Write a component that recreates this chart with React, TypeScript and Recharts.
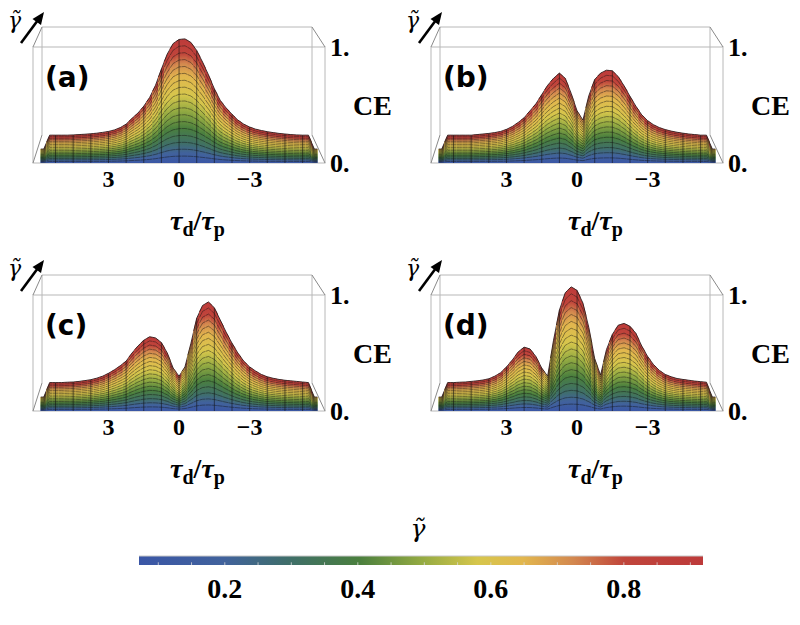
import React from 'react'
import { BarChart, Bar, XAxis, YAxis, ComposedChart, Area, ReferenceLine } from 'recharts'

// delay axis, tau_d / tau_p (left to right, axis runs from + to -)
const TAU = [
  6.25, 6, 5.75, 5.5, 5.25, 5, 4.75, 4.5, 4.25, 4, 3.75, 3.5, 3.25, 3, 2.75, 2.5, 2.25,
  2, 1.75, 1.5, 1.25, 1, 0.75, 0.5, 0.25, 0, -0.25, -0.5, -0.75, -1, -1.25, -1.5, -1.75,
  -2, -2.25, -2.5, -2.75, -3, -3.25, -3.5, -3.75, -4, -4.25, -4.5, -4.75, -5, -5.25, -5.5,
  -5.75, -6, -6.25,
]

// outline of each CE surface, as read on the front CE scale
const CE_A = [
  null, null, 0.12, 0.24, 0.24, 0.24, 0.24, 0.242, 0.245, 0.248, 0.252, 0.257, 0.264, 0.272,
  0.285, 0.305, 0.335, 0.385, 0.43, 0.49, 0.565, 0.67, 0.81, 0.94, 1.03, 1.065, 1.07, 1.04,
  0.97, 0.87, 0.76, 0.64, 0.54, 0.475, 0.42, 0.37, 0.335, 0.31, 0.292, 0.28, 0.27, 0.262,
  0.255, 0.25, 0.245, 0.242, 0.24, 0.24, 0.12, null, null,
]
const CE_B = [
  null, null, 0.12, 0.24, 0.24, 0.24, 0.24, 0.24, 0.245, 0.25, 0.255, 0.262, 0.272, 0.29,
  0.315, 0.35, 0.39, 0.45, 0.51, 0.59, 0.67, 0.73, 0.775, 0.73, 0.6, 0.45, 0.37, 0.58,
  0.72, 0.775, 0.8, 0.795, 0.745, 0.665, 0.575, 0.49, 0.415, 0.365, 0.33, 0.305, 0.288,
  0.275, 0.265, 0.257, 0.25, 0.245, 0.24, 0.24, 0.12, null, null,
]
const CE_C = [
  null, null, 0.12, 0.245, 0.245, 0.245, 0.248, 0.25, 0.255, 0.262, 0.27, 0.283, 0.3, 0.325,
  0.355, 0.39, 0.43, 0.5, 0.56, 0.61, 0.64, 0.63, 0.59, 0.5, 0.37, 0.3, 0.38, 0.58, 0.8,
  0.91, 0.94, 0.89, 0.785, 0.68, 0.585, 0.5, 0.43, 0.38, 0.345, 0.315, 0.295, 0.282, 0.272,
  0.265, 0.26, 0.255, 0.25, 0.245, 0.12, null, null,
]
const CE_D = [
  null, null, 0.12, 0.245, 0.245, 0.248, 0.25, 0.255, 0.26, 0.267, 0.278, 0.3, 0.33, 0.38,
  0.44, 0.51, 0.55, 0.535, 0.47, 0.37, 0.3, 0.61, 0.87, 1.02, 1.07, 1.04, 0.93, 0.72, 0.45,
  0.31, 0.53, 0.66, 0.74, 0.755, 0.73, 0.67, 0.56, 0.47, 0.4, 0.35, 0.315, 0.295, 0.28,
  0.272, 0.265, 0.258, 0.253, 0.248, 0.12, null, null,
]

const CE_TICKS = [0, 1]

const GAMMA_RANGE = [0.071, 0.919]
const GAMMA_TICKS = [0.2, 0.4, 0.6, 0.8]
const GAMMA_MINOR = [
  0.1, 0.15, 0.2, 0.25, 0.3, 0.35, 0.4, 0.45, 0.5, 0.55, 0.6, 0.65, 0.7, 0.75, 0.8, 0.85, 0.9,
]

// colour bar, left to right
const COLORMAP: [number, string][] = [
  [0, '#3a56a6'], [0.15, '#41629c'], [0.27, '#3f6f68'], [0.39, '#4a7f3e'], [0.5, '#93aa42'],
  [0.6, '#d6c64c'], [0.68, '#e2b74e'], [0.77, '#d3884f'], [0.86, '#c0453b'], [1, '#bd3a3a'],
]
// same colours as they fall up a surface column, bottom to top
const SURFACE_MAP: [number, string][] = [
  [0, '#3a56a6'], [0.08, '#41629c'], [0.16, '#3f6f68'], [0.28, '#4a7f3e'], [0.42, '#93aa42'],
  [0.55, '#d6c64c'], [0.7, '#e2b74e'], [0.8, '#d3884f'], [0.88, '#c0453b'], [1, '#bd3a3a'],
]

const SERIF = '"Liberation Serif", "Times New Roman", serif'
const SANS = '"DejaVu Sans", sans-serif'
const GREEK = '"DejaVu Serif", serif'

const TOP = 20
const BOTTOM = 163
const LEFT = 29
const PX_PER_CE = 116
const Y_MAX = (BOTTOM - TOP) / PX_PER_CE
const MESH = 18

const fmtTau = (v: number) => (v === 3 ? '3' : v === 0 ? '0' : v === -3 ? '\u22123' : '')

// one column of the surface: a gradient strip bent to its neighbours, with mesh lines
function surfaceShape(gradId: string) {
  return (props: any) => {
    const { x, y, width, height, payload } = props
    const v = payload?.ce
    if (v == null || !(height > 0)) return null
    const k = height / v
    const base = y + height
    const vl = payload.prev ?? v
    const vr = payload.next ?? v
    const hl = ((v + vl) / 2) * k
    const hr = ((v + vr) / 2) * k
    const hc = height
    const xm = x + width / 2
    const xe = x + width
    let mesh = ''
    for (let i = 1; i < MESH; i++) {
      const f = i / MESH
      mesh += `M${x},${base - f * hl}L${xm},${base - f * hc}L${xe},${base - f * hr}`
    }
    return (
      <g>
        <polygon
          points={`${x - 0.4},${base} ${x - 0.4},${base - hl} ${xm},${base - hc} ${xe + 0.4},${base - hr} ${xe + 0.4},${base}`}
          fill={`url(#${gradId})`}
        />
        <path d={mesh} stroke="#111" strokeWidth={0.6} strokeOpacity={0.75} fill="none" />
        {payload.i % 3 === 1 && (
          <line x1={xm} y1={base} x2={xm} y2={base - hc} stroke="#111" strokeWidth={0.7} strokeOpacity={0.8} />
        )}
        <path
          d={`M${x},${base - hl}L${xm},${base - hc}L${xe},${base - hr}`}
          stroke="#2a1a1a"
          strokeWidth={0.9}
          fill="none"
        />
      </g>
    )
  }
}

function Frame({ tag }: { tag: string }) {
  const edge = '#b8b8b8'
  const side = '#8a8a8a'
  return (
    <svg width={400} height={245} style={{ position: 'absolute', left: 0, top: 0 }}>
      <polyline points="42,135 42,27 312,27 312,135" fill="none" stroke={edge} />
      <rect x={33} y={47} width={292} height={116} fill="none" stroke={edge} />
      <line x1={42} y1={27} x2={33} y2={47} stroke={side} />
      <line x1={312} y1={27} x2={325} y2={47} stroke={side} />
      <line x1={312} y1={135} x2={325} y2={163} stroke={side} />
      <line x1={42} y1={135} x2={33} y2={163} stroke={side} />
      <line x1={21} y1={43} x2={38} y2={20} stroke="#000" strokeWidth={2.6} />
      <polygon points="44,12 41,25 32.5,19" fill="#000" />
      <text x={8} y={28} fontFamily={GREEK} fontStyle="italic" fontSize={22} fill="#000">
        γ̃
      </text>
      <text x={45} y={87} fontFamily={SANS} fontWeight={700} fontSize={28} fill="#000">
        ({tag})
      </text>
      <text x={353} y={115} fontFamily={SERIF} fontWeight={700} fontSize={28} fill="#000">
        CE
      </text>
      <text x={170} y={230} fontFamily={SERIF} fontWeight={700} fontSize={28} fill="#000">
        <tspan fontStyle="italic">τ</tspan>
        <tspan dy={6} fontSize={20}>d</tspan>
        <tspan dy={-6}>/</tspan>
        <tspan fontStyle="italic">τ</tspan>
        <tspan dy={6} fontSize={20}>p</tspan>
      </text>
    </svg>
  )
}

function Panel({ tag, values, left, top }: { tag: string; values: (number | null)[]; left: number; top: number }) {
  const rows = TAU.map((tau, i) => ({
    tau,
    i,
    ce: values[i],
    prev: i > 0 ? values[i - 1] : null,
    next: i < values.length - 1 ? values[i + 1] : null,
  }))
  const gradId = `surf-${tag}`
  const tickStyle = { fill: '#000', fontFamily: SERIF, fontWeight: 700 }
  return (
    <div style={{ position: 'absolute', left, top, width: 400, height: 245 }}>
      <Frame tag={tag} />
      <div style={{ position: 'absolute', left: 0, top: 0 }}>
        <BarChart
          width={400}
          height={245}
          data={rows}
          margin={{ top: TOP, right: 0, left: LEFT, bottom: 0 }}
          barCategoryGap={0}
          barGap={0}
        >
          <defs>
            <linearGradient id={gradId} x1="0" y1="1" x2="0" y2="0">
              {SURFACE_MAP.map(([o, c]) => (
                <stop key={o} offset={o} stopColor={c} />
              ))}
            </linearGradient>
          </defs>
          <XAxis
            dataKey="tau"
            interval={0}
            tickFormatter={fmtTau}
            axisLine={false}
            tickLine={false}
            tickSize={0}
            tickMargin={7}
            height={245 - BOTTOM}
            tick={{ ...tickStyle, fontSize: 24 }}
          />
          <YAxis
            orientation="right"
            width={71}
            domain={[0, Y_MAX]}
            ticks={CE_TICKS}
            tickFormatter={(v: number) => `${v}.`}
            axisLine={false}
            tickLine={false}
            tickSize={0}
            tickMargin={1}
            tick={{ ...tickStyle, fontSize: 26 }}
          />
          <Bar dataKey="ce" isAnimationActive={false} shape={surfaceShape(gradId)} />
        </BarChart>
      </div>
    </div>
  )
}

function ColorBar() {
  const rows = GAMMA_RANGE.map((g) => ({ g, v: 1 }))
  return (
    <div style={{ position: 'absolute', left: 0, top: 500 }}>
      <svg width={800} height={50} style={{ position: 'absolute', left: 0, top: 0 }}>
        <text x={418} y={37} textAnchor="middle" fontFamily={GREEK} fontStyle="italic" fontSize={25} fill="#000">
          γ̃
        </text>
      </svg>
      <div style={{ position: 'absolute', left: 0, top: 20 }}>
        <ComposedChart width={800} height={90} data={rows} margin={{ top: 36, right: 97, left: 139, bottom: 0 }}>
          <defs>
            <linearGradient id="cbar" x1="0" y1="0" x2="1" y2="0">
              {COLORMAP.map(([o, c]) => (
                <stop key={o} offset={o} stopColor={c} />
              ))}
            </linearGradient>
          </defs>
          <XAxis
            dataKey="g"
            type="number"
            domain={GAMMA_RANGE}
            ticks={GAMMA_TICKS}
            tickFormatter={(v: number) => v.toFixed(1)}
            axisLine={false}
            tickLine={false}
            tickSize={0}
            tickMargin={13}
            height={45}
            tick={{ fill: '#000', fontFamily: SERIF, fontWeight: 700, fontSize: 28 }}
          />
          <YAxis hide domain={[0, 1]} />
          <Area
            dataKey="v"
            type="linear"
            fill="url(#cbar)"
            fillOpacity={1}
            stroke="#c8c8c8"
            strokeWidth={1}
            dot={false}
            activeDot={false}
            isAnimationActive={false}
          />
          {GAMMA_MINOR.map((g) => (
            <ReferenceLine key={g} segment={[{ x: g, y: 0 }, { x: g, y: 0.3 }]} stroke="#d8d8d8" strokeWidth={0.8} />
          ))}
        </ComposedChart>
      </div>
    </div>
  )
}

export default function App() {
  return (
    <div style={{ position: 'absolute', left: 0, top: 0, width: 800, height: 625, background: '#fff', overflow: 'hidden' }}>
      <Panel tag="a" values={CE_A} left={0} top={0} />
      <Panel tag="b" values={CE_B} left={398} top={0} />
      <Panel tag="c" values={CE_C} left={0} top={248} />
      <Panel tag="d" values={CE_D} left={398} top={248} />
      <ColorBar />
    </div>
  )
}
